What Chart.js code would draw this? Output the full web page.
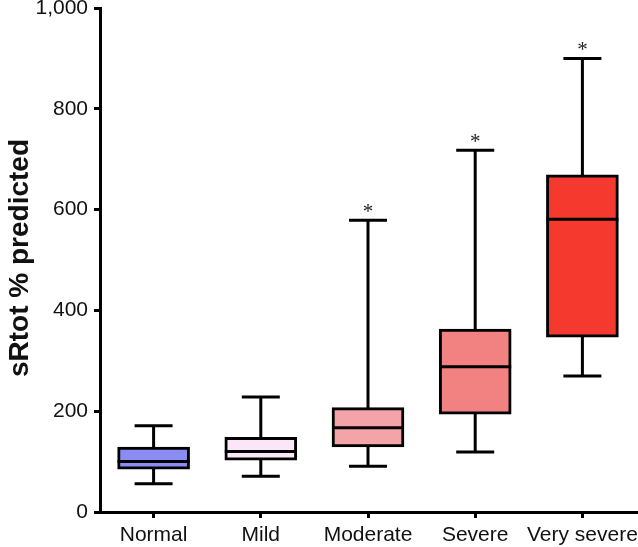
<!DOCTYPE html>
<html lang="en">
<head>
  <meta charset="UTF-8" />
  <title>sRtot % predicted</title>
  <script src="https://cdn.jsdelivr.net/npm/chart.js"></script>
  <style>
    body { margin: 0; background: #fff; }
    #wrap { width: 638px; height: 547px; position: relative; }
  </style>
</head>
<body>
  <div id="wrap"><canvas id="boxChart"></canvas></div>

  <script>
    // values
    const categories = ['Normal', 'Mild', 'Moderate', 'Severe', 'Very severe'];
    const whiskerLow = [56, 71, 91, 119, 270];
    const q1 = [85, 103, 129, 194, 347];
    const median = [100, 120, 167, 288, 581];
    const q3 = [129, 148, 207, 363, 669];
    const whiskerHigh = [171, 228, 579, 718, 900];
    const significant = [false, false, true, true, true];
    const boxColors = ['#8c8cf5', '#fbe6f8', '#f4a3a8', '#f28282', '#f5392e'];
    const yTicks = [0, 200, 400, 600, 800, 1000];

    const lineW = 3;
    const capWidth = 38;

    // whiskers, medians and asterisks drawn through the chart scales
    const boxExtras = {
      id: 'boxExtras',
      beforeDatasetsDraw(chart) {
        const { ctx, scales: { x, y } } = chart;
        ctx.save();
        ctx.strokeStyle = '#000';
        ctx.lineWidth = lineW;
        ctx.lineCap = 'butt';
        categories.forEach((c, i) => {
          const cx = x.getPixelForValue(i);
          const yHi = y.getPixelForValue(whiskerHigh[i]);
          const yLo = y.getPixelForValue(whiskerLow[i]);
          ctx.beginPath();
          ctx.moveTo(cx, yHi);
          ctx.lineTo(cx, yLo);
          ctx.moveTo(cx - capWidth / 2, yHi);
          ctx.lineTo(cx + capWidth / 2, yHi);
          ctx.moveTo(cx - capWidth / 2, yLo);
          ctx.lineTo(cx + capWidth / 2, yLo);
          ctx.stroke();
        });
        ctx.restore();
      },
      afterDatasetsDraw(chart) {
        const { ctx, scales: { x, y } } = chart;
        const meta = chart.getDatasetMeta(0);
        ctx.save();
        ctx.strokeStyle = '#000';
        ctx.lineWidth = lineW;
        categories.forEach((c, i) => {
          const bar = meta.data[i];
          const half = bar.width / 2;
          const cx = x.getPixelForValue(i);
          const ym = y.getPixelForValue(median[i]);
          ctx.beginPath();
          ctx.moveTo(cx - half, ym);
          ctx.lineTo(cx + half, ym);
          ctx.stroke();
          if (significant[i]) {
            ctx.fillStyle = '#222';
            ctx.font = '21px "Liberation Serif", serif';
            ctx.textAlign = 'center';
            ctx.textBaseline = 'alphabetic';
            ctx.fillText('*', cx, y.getPixelForValue(whiskerHigh[i]) - 2);
          }
        });
        // y axis title
        ctx.fillStyle = '#111';
        ctx.font = 'bold 28px "Liberation Sans", Arial, sans-serif';
        ctx.textAlign = 'center';
        ctx.textBaseline = 'alphabetic';
        ctx.translate(28, 258);
        ctx.rotate(-Math.PI / 2);
        ctx.fillText('sRtot % predicted', 0, 0);
        ctx.restore();
      }
    };

    const ctx = document.getElementById('boxChart').getContext('2d');

    new Chart(ctx, {
      type: 'bar',
      data: {
        labels: categories,
        datasets: [{
          data: categories.map((c, i) => [q1[i], q3[i]]),
          backgroundColor: boxColors,
          borderColor: '#000',
          borderWidth: lineW,
          borderSkipped: false,
          barThickness: 72
        }]
      },
      options: {
        responsive: true,
        maintainAspectRatio: false,
        animation: false,
        layout: { padding: { top: 8, right: 2, left: 0, bottom: 0 } },
        plugins: {
          legend: { display: false },
          tooltip: { enabled: false }
        },
        scales: {
          x: {
            offset: true,
            grid: { offset: false, drawOnChartArea: false, drawTicks: true, tickLength: 6, color: '#000', lineWidth: 3 },
            border: { color: '#000', width: 3 },
            ticks: {
              color: '#111',
              padding: 5,
              maxRotation: 0,
              autoSkip: false,
              font: { family: '"Liberation Sans", Arial, sans-serif', size: 21 }
            },
            afterFit(scale) {
              scale.height = 35;
              scale.paddingLeft = 0;
              scale.paddingRight = 0;
            }
          },
          y: {
            min: 0,
            max: 1000,
            afterBuildTicks(scale) {
              scale.ticks = yTicks.map(v => ({ value: v }));
            },
            grid: { drawOnChartArea: false, drawTicks: true, tickLength: 6, color: '#000', lineWidth: 3 },
            border: { color: '#000', width: 3 },
            ticks: {
              color: '#111',
              padding: 6,
              font: { family: '"Liberation Sans", Arial, sans-serif', size: 21 }
            },
            afterFit(scale) {
              scale.width = 100;
              scale.paddingTop = 0;
              scale.paddingBottom = 0;
            }
          }
        }
      },
      plugins: [boxExtras]
    });
  </script>
</body>
</html>
